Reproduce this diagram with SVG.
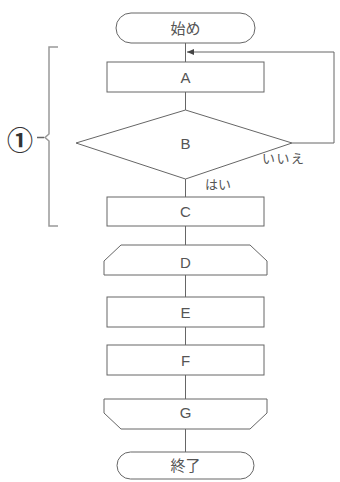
<svg xmlns="http://www.w3.org/2000/svg" width="340" height="482" viewBox="0 0 340 482">
<style>
.s{fill:#fff;stroke:#666;stroke-width:1}
.l{fill:none;stroke:#666;stroke-width:1}
.t{font-family:"Liberation Sans","Noto Sans CJK JP",sans-serif;font-size:15px;fill:#555;text-anchor:middle;dominant-baseline:central}
.j{font-family:"Noto Sans CJK JP",sans-serif;font-size:13px;fill:#555}
</style>
<defs>
<marker id="ah" markerWidth="8" markerHeight="8" refX="7" refY="4" orient="auto" markerUnits="userSpaceOnUse">
<path d="M0,1 L7,4 L0,7 Z" fill="#444"/>
</marker>
</defs>
<rect width="340" height="482" fill="#fff"/>
<g id="connectors">
<line class="l" x1="185.5" y1="43" x2="185.5" y2="62"/>
<line class="l" x1="185.5" y1="92" x2="185.5" y2="110"/>
<line class="l" x1="185.5" y1="179" x2="185.5" y2="197"/>
<line class="l" x1="185.5" y1="226" x2="185.5" y2="245"/>
<line class="l" x1="185.5" y1="275" x2="185.5" y2="297"/>
<line class="l" x1="185.5" y1="327" x2="185.5" y2="345"/>
<line class="l" x1="185.5" y1="375" x2="185.5" y2="399"/>
<line class="l" x1="185.5" y1="429" x2="185.5" y2="452"/>
<polyline class="l" points="292,143 334,143 334,52 187,52" marker-end="url(#ah)"/>
<text class="j" x="262" y="163" font-size="15" letter-spacing="1.5">いいえ</text>
<text class="j" x="205" y="189" font-size="14">はい</text>
</g>
<g id="start">
<rect class="s" x="116" y="13" width="139" height="30" rx="15"/>
<text class="t" x="185.5" y="28">始め</text>
</g>
<g id="A">
<rect class="s" x="107" y="62" width="157" height="30"/>
<text class="t" x="185.5" y="77">A</text>
</g>
<g id="B">
<polygon class="s" points="185.5,110 292,143 185.5,179 76,143"/>
<text class="t" x="185.5" y="143">B</text>
</g>
<g id="C">
<rect class="s" x="107" y="197" width="157" height="29"/>
<text class="t" x="185.5" y="211.5">C</text>
</g>
<g id="D">
<path class="s" d="M104,275 V261 L121,245 H250 L267,261 V275 Z"/>
<text class="t" x="185.5" y="262">D</text>
</g>
<g id="E">
<rect class="s" x="107" y="297" width="157" height="30"/>
<text class="t" x="185.5" y="312">E</text>
</g>
<g id="F">
<rect class="s" x="107" y="345" width="157" height="30"/>
<text class="t" x="185.5" y="360">F</text>
</g>
<g id="G">
<path class="s" d="M104,399 H267 V413 L250,429 H121 L104,413 Z"/>
<text class="t" x="185.5" y="412">G</text>
</g>
<g id="end">
<rect class="s" x="117" y="452" width="137" height="27" rx="13.5"/>
<text class="t" x="185.5" y="465.5">終了</text>
</g>
<g id="bracket">
<path d="M58,47 H49 V134 L45,137.5 L49,141 V226 H58" fill="none" stroke="#999" stroke-width="1.5"/>
<line x1="37" y1="137.5" x2="44" y2="137.5" stroke="#666" stroke-width="1.5"/>
<text x="20" y="138" font-family="Noto Sans CJK JP,sans-serif" font-size="26" font-weight="bold" fill="#333" text-anchor="middle" dominant-baseline="central">①</text>
</g>
</svg>
